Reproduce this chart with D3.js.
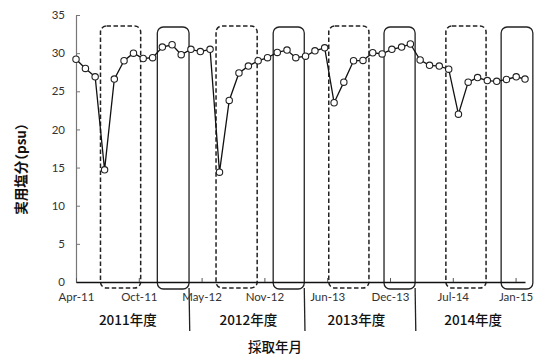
<!DOCTYPE html>
<html>
<head>
<meta charset="utf-8">
<script src="https://cdn.jsdelivr.net/npm/d3@7"></script>
<style>
  html, body { margin: 0; padding: 0; background: #fff; }
  svg { display: block; }
  .tick text { font-family: Lato, "Noto Sans", sans-serif; font-size: 11.5px; fill: #333; }
  .jp { font-family: "Noto Sans CJK JP", sans-serif; fill: #111; }
</style>
</head>
<body>
<svg id="chart" width="539" height="356"></svg>
<script>
// ---- data ----
const months = [
  "2011-04","2011-05","2011-06","2011-07","2011-08","2011-09","2011-10","2011-11","2011-12","2012-01","2012-02","2012-03",
  "2012-04","2012-05","2012-06","2012-07","2012-08","2012-09","2012-10","2012-11","2012-12","2013-01","2013-02","2013-03",
  "2013-04","2013-05","2013-06","2013-07","2013-08","2013-09","2013-10","2013-11","2013-12","2014-01","2014-02","2014-03",
  "2014-04","2014-05","2014-06","2014-07","2014-08","2014-09","2014-10","2014-11","2014-12","2015-01","2015-02","2015-03"
];
const salinity = [
  29.2, 28.0, 26.9, 14.7, 26.6, 29.0, 30.0, 29.3, 29.4, 30.8, 31.1, 29.8,
  30.5, 30.2, 30.5, 14.4, 23.8, 27.4, 28.3, 29.0, 29.4, 30.1, 30.4, 29.4,
  29.6, 30.3, 30.7, 23.5, 26.2, 29.0, 29.05, 30.05, 29.9, 30.5, 30.8, 31.2,
  29.1, 28.4, 28.3, 27.9, 22.0, 26.2, 26.8, 26.4, 26.3, 26.55, 26.9, 26.6
];
const yTicks = [0, 5, 10, 15, 20, 25, 30, 35];
const xTickDates = ["2011-04-01","2011-10-18","2012-05-05","2012-11-21","2013-06-09","2013-12-26","2014-07-14","2015-01-30"];
const xTickLabels = ["Apr-11","Oct-11","May-12","Nov-12","Jun-13","Dec-13","Jul-14","Jan-15"];
const fiscalYears = ["2011年度","2012年度","2013年度","2014年度"];
const fiscalLabelDates = ["2011-09-13","2012-10-01","2013-09-10","2014-09-17"];
const dashedBoxes = [["2011-06-18","2011-10-24"],["2012-06-20","2012-10-29"],["2013-06-14","2013-10-20"],["2014-06-22","2014-10-28"]];
const solidBoxes = [["2011-12-16","2012-03-26"],["2012-12-19","2013-03-28"],["2013-12-07","2014-03-16"],["2014-12-15","2015-03-26"]];
const separators = ["2012-03-26","2013-03-28","2014-03-16"];
const yLabel = "実用塩分（psu）";
const xLabel = "採取年月";

// ---- layout ----
const svg = d3.select("#chart");
const mLeft = 76, mRight = 525, mTop = 15, mBottom = 282;
const pM = d3.utcParse("%Y-%m");
const pD = d3.utcParse("%Y-%m-%d");

const x = d3.scaleUtc().domain([pM(months[0]), pM(months[months.length - 1])]).range([mLeft, mRight]);
const y = d3.scaleLinear().domain([0, 35]).range([mBottom, mTop]);

// annotation boxes
const boxTop = 26, boxBottom = 288;
svg.append("g").selectAll("rect").data(dashedBoxes).join("rect")
  .attr("x", d => x(pD(d[0]))).attr("width", d => x(pD(d[1])) - x(pD(d[0])))
  .attr("y", boxTop).attr("height", boxBottom - boxTop)
  .attr("rx", 6).attr("ry", 6)
  .attr("fill", "none").attr("stroke", "#222").attr("stroke-width", 1.5)
  .attr("stroke-dasharray", "4.5,2.5");

svg.append("g").selectAll("rect").data(solidBoxes).join("rect")
  .attr("x", d => x(pD(d[0]))).attr("width", d => x(pD(d[1])) - x(pD(d[0])))
  .attr("y", boxTop + 1).attr("height", boxBottom - boxTop)
  .attr("rx", 6).attr("ry", 6)
  .attr("fill", "none").attr("stroke", "#222").attr("stroke-width", 1.3);

svg.append("g").selectAll("line").data(separators).join("line")
  .attr("x1", d => x(pD(d))).attr("x2", d => x(pD(d)) + 0.7)
  .attr("y1", boxBottom).attr("y2", 331)
  .attr("stroke", "#222").attr("stroke-width", 1.3);

// y axis
const yAxis = svg.append("g").attr("transform", `translate(${mLeft},0)`)
  .call(d3.axisLeft(y).tickValues(yTicks).tickSizeInner(-4).tickSizeOuter(0).tickPadding(11));
yAxis.select(".domain").attr("stroke", "#777").attr("stroke-width", 1.2);
yAxis.selectAll(".tick line").attr("stroke", "#777");

// x axis
const xAxis = svg.append("g").attr("transform", `translate(0,${mBottom})`)
  .call(d3.axisBottom(x).tickValues(xTickDates.map(pD))
    .tickFormat((d, i) => xTickLabels[i]).tickSizeInner(-4).tickSizeOuter(0).tickPadding(11));
xAxis.select(".domain").attr("stroke", "#111").attr("stroke-width", 1.6);
xAxis.selectAll(".tick line").attr("stroke", "#555");

// line + markers
const pts = months.map((m, i) => ({ d: pM(m), v: salinity[i] }));
svg.append("path").datum(pts)
  .attr("fill", "none").attr("stroke", "#111").attr("stroke-width", 1.3)
  .attr("d", d3.line().x(d => x(d.d)).y(d => y(d.v)));
svg.append("g").selectAll("circle").data(pts).join("circle")
  .attr("cx", d => x(d.d)).attr("cy", d => y(d.v)).attr("r", 3.2)
  .attr("fill", "#fff").attr("stroke", "#222").attr("stroke-width", 1.1);

// fiscal year labels
svg.append("g").selectAll("text").data(fiscalYears).join("text")
  .attr("class", "jp")
  .attr("x", (d, i) => x(pD(fiscalLabelDates[i]))).attr("y", 325)
  .attr("text-anchor", "middle").attr("font-size", 13.5).attr("font-weight", 500)
  .text(d => d);

// axis titles
svg.append("text").attr("class", "jp")
  .attr("x", 275).attr("y", 352).attr("text-anchor", "middle")
  .attr("font-size", 13.5).attr("font-weight", 500).text(xLabel);

svg.append("text").attr("class", "jp")
  .attr("transform", "translate(26,169) rotate(-90)")
  .attr("text-anchor", "middle").attr("font-size", 13.5).attr("font-weight", 700)
  .style("font-feature-settings", '"halt"')
  .text(yLabel);
</script>
</body>
</html>
